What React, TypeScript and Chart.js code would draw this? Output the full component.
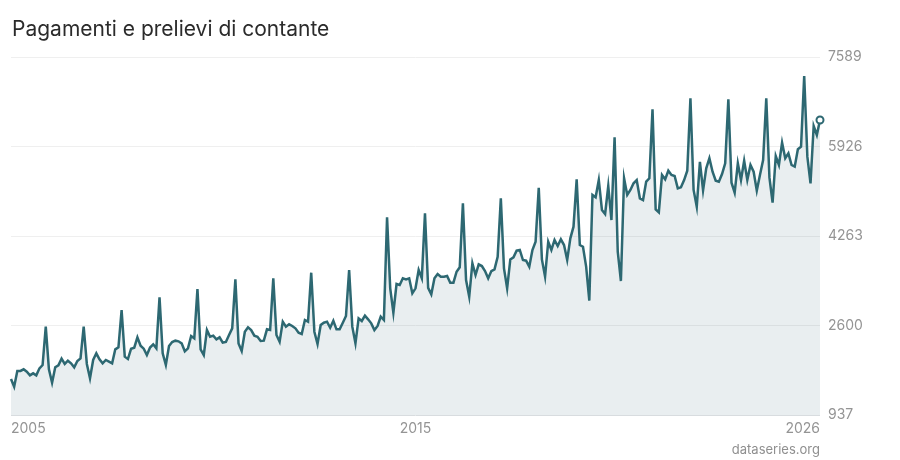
import { useEffect, useRef } from "react";
import { Chart, registerables } from "chart.js";
Chart.register(...registerables);

// monthly values, Jan..Dec
const Y2005 = [1606, 1463, 1755, 1755, 1786, 1742, 1674, 1711, 1674, 1804, 1866, 2578];
const Y2006 = [1786, 1537, 1823, 1860, 1983, 1885, 1946, 1897, 1823, 1940, 1990, 2578];
const Y2007 = [1885, 1619, 1959, 2083, 1972, 1897, 1959, 1928, 1897, 2157, 2194, 2888];
const Y2008 = [2021, 1977, 2169, 2188, 2381, 2225, 2170, 2050, 2190, 2250, 2176, 3124];
const Y2009 = [2083, 1866, 2219, 2293, 2318, 2306, 2268, 2120, 2176, 2405, 2362, 3278];
const Y2010 = [2157, 2052, 2516, 2392, 2411, 2343, 2380, 2281, 2293, 2423, 2547, 3458];
const Y2011 = [2268, 2126, 2485, 2567, 2516, 2411, 2392, 2312, 2318, 2529, 2516, 3477];
const Y2012 = [2423, 2299, 2671, 2578, 2622, 2591, 2547, 2467, 2442, 2702, 2671, 3581];
const Y2013 = [2485, 2256, 2609, 2652, 2671, 2559, 2689, 2529, 2529, 2652, 2776, 3631];
const Y2014 = [2578, 2269, 2733, 2684, 2782, 2715, 2640, 2516, 2591, 2764, 2702, 4610];
const Y2015 = [3291, 2838, 3371, 3352, 3477, 3458, 3477, 3198, 3291, 3631, 3477, 4684];
const Y2016 = [3300, 3179, 3477, 3557, 3508, 3508, 3520, 3396, 3396, 3600, 3681, 4870];
const Y2017 = [3445, 3135, 3755, 3538, 3737, 3705, 3612, 3477, 3612, 3644, 3878, 4963];
const Y2018 = [3662, 3291, 3829, 3867, 3990, 4003, 3817, 3804, 3693, 4003, 4157, 5160];
const Y2019 = [3829, 3508, 4157, 4003, 4189, 4077, 4201, 4095, 3817, 4220, 4436, 5316];
const Y2020 = [4095, 4064, 3693, 3061, 5025, 4982, 5303, 4746, 4672, 5192, 4560, 6097];
const Y2021 = [3971, 3427, 5335, 5025, 5118, 5242, 5303, 4963, 4932, 5273, 5335, 6617];
const Y2022 = [4758, 4703, 5396, 5316, 5476, 5396, 5378, 5149, 5167, 5303, 5476, 6821];
const Y2023 = [5118, 4807, 5640, 5110, 5521, 5707, 5458, 5290, 5272, 5415, 5613, 6802];
const Y2024 = [5253, 5067, 5613, 5303, 5662, 5303, 5582, 5458, 5105, 5396, 5675, 6821];
const Y2025 = [5347, 4882, 5749, 5582, 5997, 5707, 5799, 5582, 5551, 5874, 5922, 7236];
const Y2026 = [5737, 5242, 6307, 6139, 6418];

const VALUES = [
  ...Y2005, ...Y2006, ...Y2007, ...Y2008, ...Y2009, ...Y2010, ...Y2011, ...Y2012,
  ...Y2013, ...Y2014, ...Y2015, ...Y2016, ...Y2017, ...Y2018, ...Y2019, ...Y2020,
  ...Y2021, ...Y2022, ...Y2023, ...Y2024, ...Y2025, ...Y2026,
];

const X_LABELS = ["2005", "2015", "2026"];
const Y_TICKS = [937, 2600, 4263, 5926, 7589];

const LINE = "#2d6872";
const GREY = "#949494";

export default function App() {
  const canvasRef = useRef<HTMLCanvasElement>(null);

  useEffect(() => {
    document.body.style.margin = "0";
    if (!canvasRef.current) return;
    const last = VALUES.length - 1;
    const xTicks = [0, Math.round(last / 2), last];

    const chart = new Chart(canvasRef.current, {
      type: "line",
      data: {
        datasets: [{
          data: VALUES.map((v, i) => ({ x: i, y: v })),
          borderColor: LINE,
          borderWidth: 2.5,
          backgroundColor: "rgba(40,90,110,0.1)",
          fill: "start",
          tension: 0,
          clip: 8,
          pointRadius: ctx => (ctx.dataIndex === last ? 3.5 : 0),
          pointBorderWidth: 2,
          pointBackgroundColor: "#ffffff",
          pointBorderColor: LINE,
        }],
      },
      options: {
        responsive: false,
        animation: false,
        layout: { padding: { left: 11, top: 57, right: 0, bottom: 0 } },
        plugins: { legend: { display: false }, tooltip: { enabled: false } },
        scales: {
          x: {
            type: "linear",
            min: 0,
            max: last,
            afterBuildTicks: s => { s.ticks = xTicks.map(v => ({ value: v })); },
            afterFit: s => { s.height = 45; },
            ticks: {
              align: "inner",
              padding: 5,
              color: GREY,
              font: { family: "Inter", size: 14 },
              maxRotation: 0,
              callback: (_v, i) => X_LABELS[i],
            },
            grid: { display: false, drawTicks: false },
            border: { display: false },
          },
          y: {
            position: "right",
            min: 937,
            max: 7589,
            afterBuildTicks: s => { s.ticks = Y_TICKS.map(v => ({ value: v })); },
            afterFit: s => { s.width = 80; },
            ticks: {
              padding: 8,
              color: GREY,
              font: { family: "Inter", size: 14 },
              callback: v => String(v),
            },
            grid: {
              drawTicks: false,
              color: ctx => (ctx.tick && ctx.tick.value === 937 ? "#d8dcdf" : "#efefef"),
            },
            border: { display: false },
          },
        },
      },
    });
    return () => { chart.destroy(); };
  }, []);

  return (
    <div style={{ position: "relative", width: 900, height: 460, background: "#fff", fontFamily: "Inter, sans-serif" }}>
      <canvas ref={canvasRef} width={900} height={460} style={{ position: "absolute", left: 0, top: 0 }} />
      <div style={{ position: "absolute", left: 12, top: 16, fontSize: 21, lineHeight: "25px", color: "#2b2b2b" }}>
        Pagamenti e prelievi di contante
      </div>
      <div style={{ position: "absolute", right: 80, top: 441, fontSize: 13, lineHeight: "16px", color: "#8f8f8f" }}>
        dataseries.org
      </div>
    </div>
  );
}
